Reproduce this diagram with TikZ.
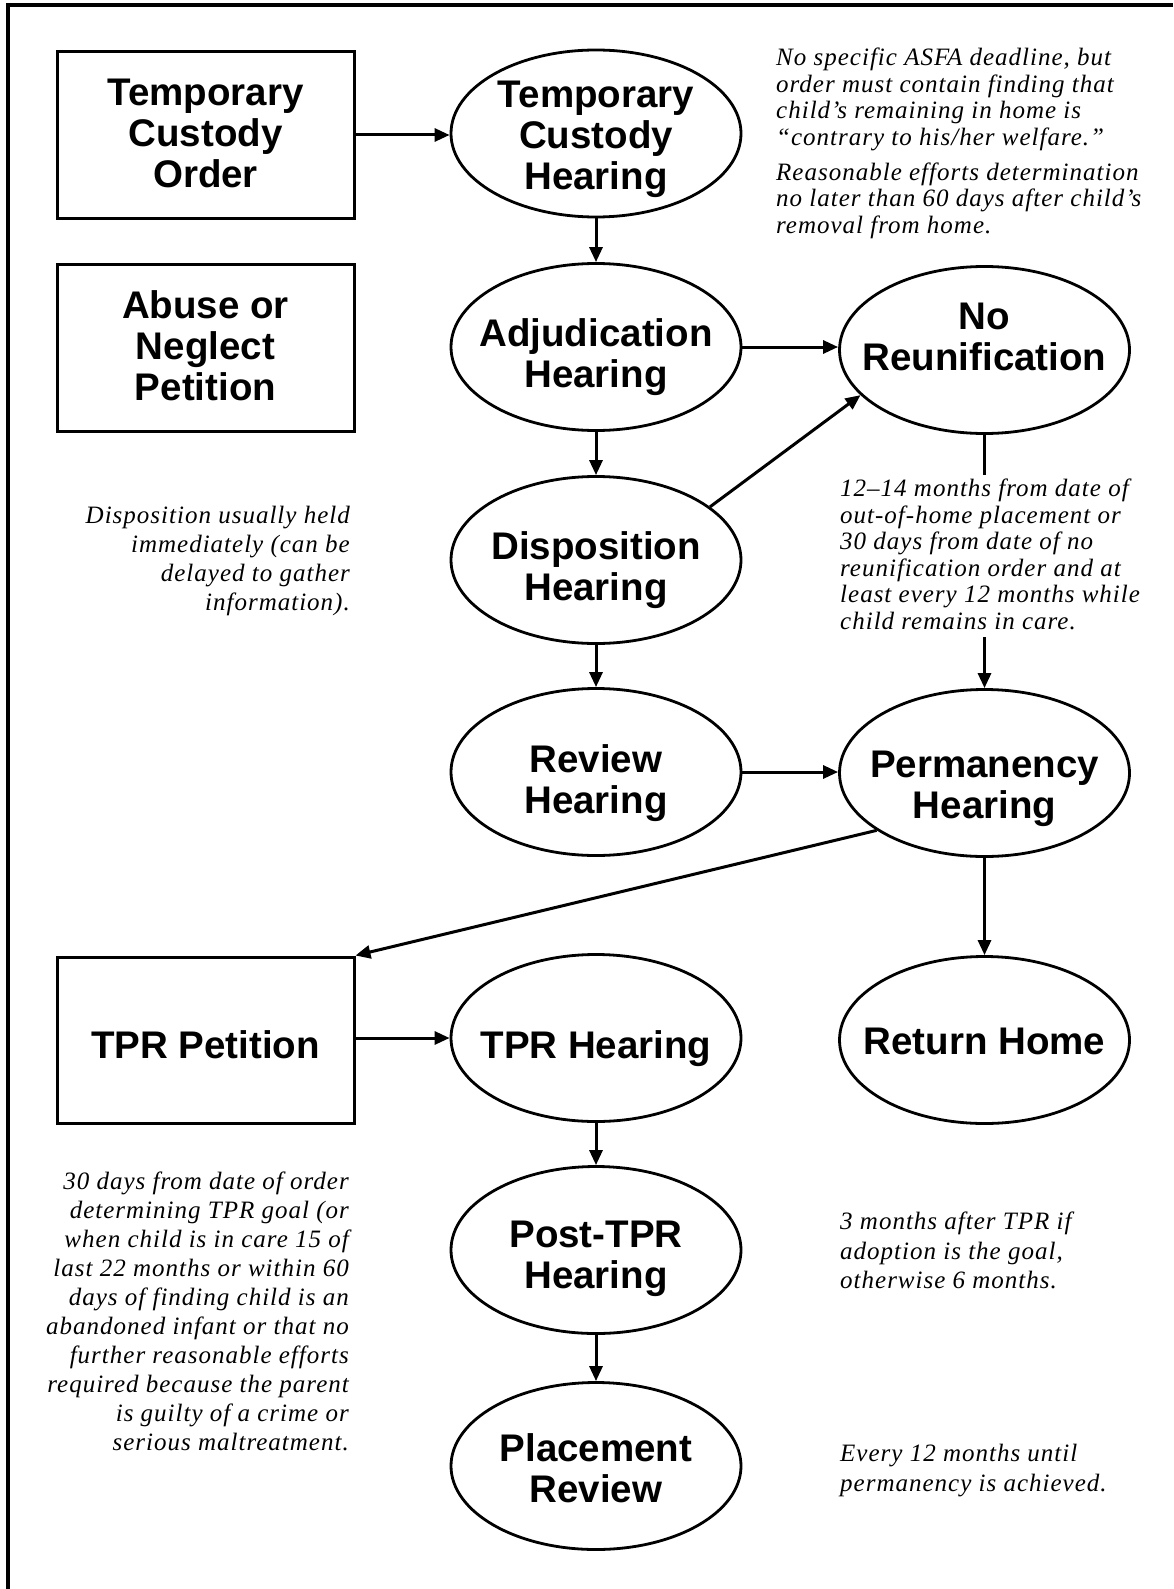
\documentclass[tikz,border=0pt]{standalone}
\usepackage{fontspec}
\setmainfont{Liberation Serif}
\newfontfamily\nodefont{Liberation Sans}
\newfontfamily\notefont{Liberation Serif}[LetterSpace=4]
\usetikzlibrary{arrows.meta,shapes.geometric}

\begin{document}
\begin{tikzpicture}[x=1pt,y=-1pt,
  box/.style={draw,line width=3pt,rectangle,minimum width=297pt,minimum height=167pt,inner sep=0pt},
  oval/.style={draw,line width=2.8pt,ellipse,minimum width=290pt,minimum height=167pt,inner sep=0pt},
  lbl/.style={font={\nodefont\bfseries\fontsize{38.5}{41}\selectfont},align=center,inner sep=0pt},
  note/.style={font={\notefont\itshape\fontsize{25}{26.5}\selectfont},inner sep=0pt},
  arr/.style={line width=3pt,-{Triangle[length=15pt,width=13pt]}},
  ln/.style={line width=3pt}
]
\fill[white] (0,0) rectangle (1173,1589);
\useasboundingbox (0,0) rectangle (1173,1589);
\draw[line width=3.5pt] (1173,5) -- (8,5) -- (8,1589);

% left boxes
\node[box,label={[lbl,yshift=2.5pt]center:{Temporary\\Custody\\Order}}] (tco) at (205.5,135.5) {};
\node[box,label={[lbl,yshift=2pt]center:{Abuse or\\Neglect\\Petition}}] (abuse) at (205.5,348) {};
\node[box,minimum height=166pt,label={[lbl,yshift=-4.5pt]center:{TPR Petition}}] (tprp) at (205.5,1040) {};

% middle column
\node[oval,label={[lbl,yshift=-5.5pt]center:{Temporary\\Custody\\Hearing}}] (tch) at (596,133.5) {};
\node[oval,label={[lbl,yshift=-10pt]center:{Adjudication\\Hearing}}] (adj) at (596,347) {};
\node[oval,label={[lbl,yshift=-10pt]center:{Disposition\\Hearing}}] (disp) at (596,560) {};
\node[oval,label={[lbl,yshift=-11pt]center:{Review\\Hearing}}] (rev) at (596,772) {};
\node[oval,label={[lbl,yshift=-10.5pt]center:{TPR Hearing}}] (tprh) at (596,1038) {};
\node[oval,label={[lbl,yshift=-9pt]center:{Post-TPR\\Hearing}}] (post) at (596,1250) {};
\node[oval,label={[lbl,yshift=-2pt]center:{Placement\\Review}}] (place) at (596,1466) {};

% right column
\node[oval,label={[lbl,yshift=13pt]center:{No\\Reunification}}] (noreun) at (984.5,350) {};
\node[oval,label={[lbl,yshift=-16pt]center:{Permanency\\Hearing}}] (perm) at (984.5,773) {};
\node[oval,label={[lbl,yshift=-1pt]center:{Return Home}}] (ret) at (984.5,1040) {};

% notes
\node[note,anchor=north west,align=left] (n1) at (776,48) {No specific ASFA deadline, but\\order must contain finding that\\child’s remaining in home is\\“contrary to his/her welfare.”\\[8.5pt]Reasonable efforts determination\\no later than 60 days after child’s\\removal from home.};
\node[note,anchor=north west,align=left] (n2) at (840,479) {12–14 months from date of\\out-of-home placement or\\30 days from date of no\\reunification order and at\\least every 12 months while\\child remains in care.};
\node[note,anchor=north east,align=right,font={\notefont\itshape\fontsize{25}{29}\selectfont}] (nd) at (350,506) {Disposition usually held\\immediately (can be\\delayed to gather\\information).};
\node[note,anchor=north east,align=right,font={\notefont\itshape\fontsize{25}{29}\selectfont}] (n3) at (349,1172) {30 days from date of order\\determining TPR goal (or\\when child is in care 15 of\\last 22 months or within 60\\days of finding child is an\\abandoned infant or that no\\further reasonable efforts\\required because the parent\\is guilty of a crime or\\serious maltreatment.};
\node[note,anchor=north west,align=left,font={\notefont\itshape\fontsize{25}{29.5}\selectfont}] (n4) at (840,1212) {3 months after TPR if\\adoption is the goal,\\otherwise 6 months.};
\node[note,anchor=north west,align=left,font={\notefont\itshape\fontsize{25}{30}\selectfont}] (n5) at (840,1444) {Every 12 months until\\permanency is achieved.};

% connectors
\draw[arr] (tco.east |- 0,135) -- (tch.west |- 0,135);
\draw[arr] (tch.south) -- (adj.north);
\draw[arr] (adj.south) -- (disp.north);
\draw[arr] (disp.south) -- (rev.north);
\draw[arr] (tprh.south) -- (post.north);
\draw[arr] (post.south) -- (place.north);
\draw[arr] (adj.east) -- (noreun.west |- adj.east);
\draw[arr] (disp.25.6) -- (noreun.200.3);
\draw[arr] (rev.east) -- (perm.west |- rev.east);
\draw[arr] (tprp.east |- tprh.east) -- (tprh.east -| tprh.west);
\draw[ln] (noreun.south) -- ([yshift=4pt]noreun.south |- n2.north);
\draw[arr] ([yshift=-7pt]noreun.south |- n2.south) -- (perm.north);
\draw[arr] (perm.south) -- (ret.north);
\draw[arr] (perm.208.8) -- (tprp.north east);
\end{tikzpicture}
\end{document}
